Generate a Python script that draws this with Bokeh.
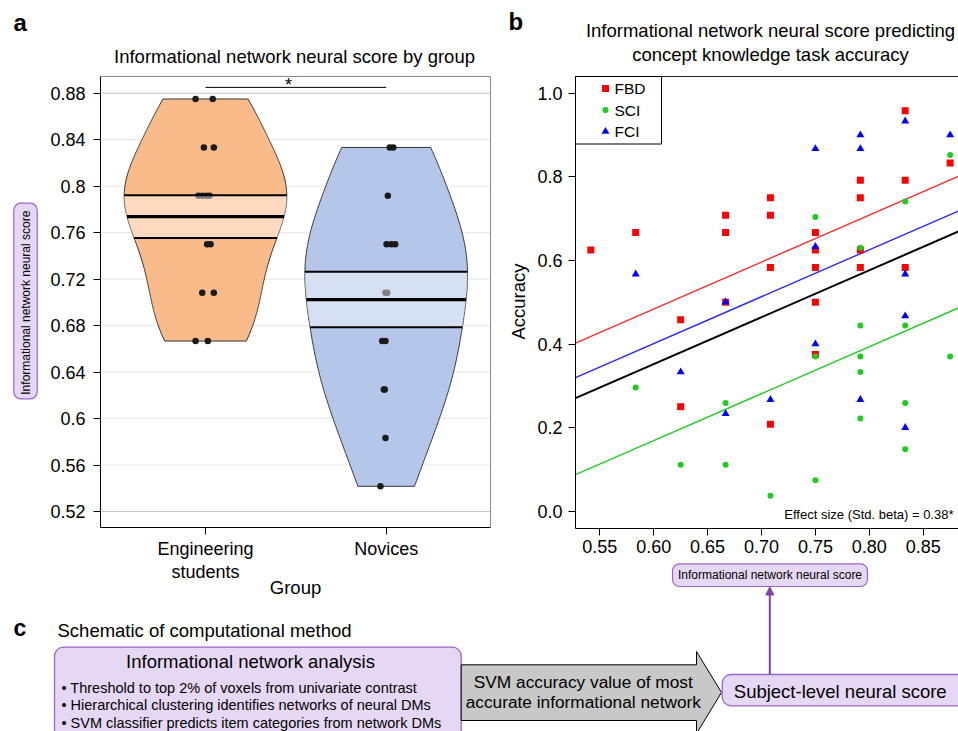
import numpy as np
from bokeh.plotting import figure
from bokeh.models import Range1d, LinearAxis, FixedTicker, Arrow, NormalHead
from bokeh.core.properties import value
from bokeh.embed import file_html
from bokeh.resources import INLINE

# ---------------- panel a data ----------------
GROUP_LABELS = ["Engineering\nstudents", "Novices"]
ENG_SCORE = [0.875, 0.875, 0.8333, 0.8333, 0.7917, 0.7917, 0.7917, 0.7917,
             0.75, 0.75, 0.7083, 0.7083, 0.6667, 0.6667]
ENG_JITTER = [-0.055, 0.040, -0.009, 0.046, -0.039, -0.017, 0.006, 0.022,
              0.009, 0.028, -0.018, 0.046, -0.055, 0.013]
NOV_SCORE = [0.8333, 0.8333, 0.7917, 0.75, 0.75, 0.75, 0.7083, 0.7083,
             0.6667, 0.6667, 0.625, 0.625, 0.5833, 0.5417]
NOV_JITTER = [0.020, 0.039, 0.009, 0.002, 0.028, 0.050, -0.004, 0.006,
              -0.022, -0.004, -0.013, -0.008, -0.004, -0.032]
A_YTICKS = [0.52, 0.56, 0.60, 0.64, 0.68, 0.72, 0.76, 0.80, 0.84, 0.88]
A_YLABELS = ["0.52", "0.56", "0.6", "0.64", "0.68", "0.72", "0.76", "0.8", "0.84", "0.88"]
SIG_Y = 0.885

# ---------------- panel b data ----------------
FBD_X = [0.5417, 0.5833, 0.625, 0.625, 0.6667, 0.6667, 0.6667, 0.7083, 0.7083, 0.7083, 0.7083,
         0.75, 0.75, 0.75, 0.75, 0.75, 0.7917, 0.7917, 0.7917, 0.7917, 0.8333, 0.8333, 0.8333, 0.875]
FBD_Y = [0.625, 0.667, 0.458, 0.250, 0.708, 0.667, 0.500, 0.750, 0.708, 0.583, 0.208,
         0.667, 0.625, 0.583, 0.500, 0.375, 0.792, 0.750, 0.625, 0.583, 0.958, 0.792, 0.583, 0.833]
SCI_X = [0.5833, 0.625, 0.6667, 0.6667, 0.7083, 0.75, 0.75, 0.75, 0.7917, 0.7917, 0.7917, 0.7917,
         0.7917, 0.8333, 0.8333, 0.8333, 0.8333, 0.875, 0.875]
SCI_Y = [0.296, 0.111, 0.259, 0.111, 0.037, 0.704, 0.370, 0.074, 0.630, 0.444, 0.370, 0.333,
         0.222, 0.741, 0.444, 0.259, 0.148, 0.852, 0.370]
FCI_X = [0.5833, 0.625, 0.6667, 0.6667, 0.7083, 0.75, 0.75, 0.75, 0.7917, 0.7917, 0.7917,
         0.8333, 0.8333, 0.8333, 0.8333, 0.875]
FCI_Y = [0.567, 0.333, 0.500, 0.233, 0.267, 0.867, 0.633, 0.400, 0.900, 0.867, 0.267,
         0.933, 0.567, 0.467, 0.200, 0.900]
FIT_SLOPE = 1.123
FIT_NAMES = ["FBD", "FCI", "All", "SCI"]
FIT_INTERCEPTS = [-0.190, -0.273, -0.322, -0.505]
FIT_COLORS = ["#FF2A2A", "#2A2AFF", "black", "#2ACC2A"]
B_XTICKS = [0.55, 0.60, 0.65, 0.70, 0.75, 0.80, 0.85]
B_XLABELS = ["0.55", "0.60", "0.65", "0.70", "0.75", "0.80", "0.85"]
B_YTICKS = [0.0, 0.2, 0.4, 0.6, 0.8, 1.0]
B_YLABELS = ["0.0", "0.2", "0.4", "0.6", "0.8", "1.0"]

# ---------------- canvas helpers ----------------
FONT = "Liberation Sans"
W, H = 958, 731


def X(px):
    return px


def Y(py):
    return H - py


def lin(v0, p0, v1, p1):
    k = (v1 - v0) / (p1 - p0)
    return lambda pp: v0 + (pp - p0) * k


ax_v = lin(1.0, 205.0, 2.0, 385.7)
ay_v = lin(0.88, 92.7, 0.52, 511.0)
bx_v = lin(0.70, 761.0, 0.85, 922.7)
by_v = lin(1.0, 92.7, 0.0, 510.7)

p = figure(width=W, height=H, x_range=Range1d(0, W), y_range=Range1d(0, H),
           x_axis_type=None, y_axis_type=None, toolbar_location=None,
           output_backend="svg", min_border=0, outline_line_color=None)
p.background_fill_color = "white"
p.border_fill_color = "white"
p.extra_x_ranges = {"ax": Range1d(ax_v(0), ax_v(W)), "bx": Range1d(bx_v(0), bx_v(W))}
p.extra_y_ranges = {"ay": Range1d(ay_v(H), ay_v(0)), "by": Range1d(by_v(H), by_v(0))}

A = dict(x_range_name="ax", y_range_name="ay")
B = dict(x_range_name="bx", y_range_name="by")


def txt(px, py, s, size, align="left", baseline="alphabetic", bold=False, color="black", angle=0.0):
    if baseline == "alphabetic":
        py = py - 0.35 * size
        baseline = "middle"
    p.text(x=[X(px)], y=[Y(py)], text=[s], text_font=value(FONT), text_font_size=f"{size}px",
           text_font_style="bold" if bold else "normal", text_color=color,
           text_align=align, text_baseline=baseline, angle=angle)


def style_axis(ax, out, standoff):
    ax.axis_line_color = "black"
    ax.axis_line_width = 1
    ax.major_tick_line_color = "black"
    ax.major_tick_out = out
    ax.major_tick_in = 0
    ax.minor_tick_line_color = None
    ax.major_label_text_font = FONT
    ax.major_label_text_font_size = "18px"
    ax.major_label_text_color = "black"
    ax.major_label_standoff = standoff
    ax.major_label_text_line_height = 1.15


LAV_FILL = "#E6D8F5"
LAV_LINE = "#9B63CC"
PURPLE = "#8040AA"

# ================= panel a =================
A_X0, A_X1 = ax_v(100), ax_v(490)
A_Y0, A_Y1 = ay_v(527), ay_v(76)

grid_cols = ["#C4C4C4"] + ["#E6E6E6"] * (len(A_YTICKS) - 2) + ["#C4C4C4"]
p.segment(x0=A_X0, x1=A_X1, y0=A_YTICKS, y1=A_YTICKS, line_color=grid_cols, line_width=1, **A)
p.segment(x0=[X(100), X(490)], y0=[Y(76), Y(76)], x1=[X(490), X(490)], y1=[Y(76), Y(527)],
          line_color="#8A8A8A", line_width=1)


def kde(vals, ys):
    v = np.asarray(vals, float)
    sd = v.std(ddof=1)
    q1, q3 = np.percentile(v, [25, 75])
    bw = 0.9 * min(sd, (q3 - q1) / 1.34) * len(v) ** -0.2
    ys = np.atleast_1d(np.asarray(ys, float))
    return np.exp(-0.5 * ((ys[:, None] - v[None, :]) / bw) ** 2).sum(axis=1)


BEAN_COLORS = ["#F9BB8A", "#B4C7EA"]
for pos, vals, jit, col in zip([1, 2], [ENG_SCORE, NOV_SCORE], [ENG_JITTER, NOV_JITTER], BEAN_COLORS):
    v = np.asarray(vals, float)
    ys = np.linspace(v.min(), v.max(), 240)
    d = kde(v, ys)
    scale = 0.45 / d.max()
    w = d * scale
    p.patch(x=np.concatenate([pos - w, (pos + w)[::-1]]), y=np.concatenate([ys, ys[::-1]]),
            fill_color=col, line_color="#333333", line_width=1, **A)
    p.scatter(x=pos + np.asarray(jit), y=v, marker="circle", size=6.5,
              fill_color="#1A1A1A", line_color=None, **A)
    m = v.mean()
    se = v.std(ddof=1) / np.sqrt(len(v))
    yb = np.linspace(m - se, m + se, 60)
    wb = kde(v, yb) * scale
    p.patch(x=np.concatenate([pos - wb, (pos + wb)[::-1]]), y=np.concatenate([yb, yb[::-1]]),
            fill_color="white", fill_alpha=0.45, line_color=None, **A)
    for yv, lw in [(m - se, 2), (m + se, 2), (m, 3.2)]:
        hw = kde(v, [yv])[0] * scale
        p.segment(x0=[pos - hw], x1=[pos + hw], y0=[yv], y1=[yv], line_color="black", line_width=lw, **A)

p.segment(x0=[1], x1=[2], y0=[SIG_Y], y1=[SIG_Y], line_color="black", line_width=1, **A)
txt(288.1, 90.5, "*", 18, align="center")

a_y = LinearAxis(x_range_name="default", y_range_name="ay", fixed_location=X(100),
                 bounds=(A_Y0, A_Y1), ticker=FixedTicker(ticks=A_YTICKS),
                 major_label_overrides=dict(zip(A_YTICKS, A_YLABELS)))
style_axis(a_y, 7, 8)
p.add_layout(a_y, "left")
a_x = LinearAxis(x_range_name="ax", y_range_name="default", fixed_location=Y(527),
                 bounds=(A_X0, A_X1), ticker=FixedTicker(ticks=[1, 2]),
                 major_label_overrides={1: GROUP_LABELS[0], 2: GROUP_LABELS[1]})
style_axis(a_x, 7, 4)
p.add_layout(a_x, "below")

txt(13, 30, "a", 24, bold=True)
txt(294, 62.5, "Informational network neural score by group", 18.5, align="center")
txt(295, 593.3, "Group", 18.5, align="center")
p.quad(left=[X(13.3)], right=[X(36.7)], top=[Y(202.7)], bottom=[Y(398.3)], border_radius=7,
       fill_color=LAV_FILL, line_color=LAV_LINE, line_width=1.2)
txt(25.5, 300.5, "Informational  network neural score", 12, align="center",
    baseline="middle", angle=np.pi / 2)

# ================= panel b =================
B_X0, B_X1 = bx_v(575), bx_v(W)
B_Y0, B_Y1 = by_v(527.7), by_v(76)
p.segment(x0=[X(575)], x1=[X(W)], y0=[Y(76)], y1=[Y(76)], line_color="#222222", line_width=1)

for b0, c in zip(FIT_INTERCEPTS, FIT_COLORS):
    p.segment(x0=[B_X0], x1=[B_X1], y0=[b0 + FIT_SLOPE * B_X0], y1=[b0 + FIT_SLOPE * B_X1],
              line_color=c, line_width=2 if c == "black" else 1.4, **B)

p.scatter(x=FBD_X, y=FBD_Y, marker="square", size=7, fill_color="#FF0000", line_color=None, **B)
p.scatter(x=SCI_X, y=SCI_Y, marker="circle", size=6, fill_color="#1ECB1E", line_color=None, **B)
p.scatter(x=FCI_X, y=FCI_Y, marker="triangle", size=8, fill_color="#0000FF", line_color=None, **B)

b_y = LinearAxis(x_range_name="default", y_range_name="by", fixed_location=X(575),
                 bounds=(B_Y0, B_Y1), ticker=FixedTicker(ticks=B_YTICKS),
                 major_label_overrides=dict(zip(B_YTICKS, B_YLABELS)))
style_axis(b_y, 7, 6)
p.add_layout(b_y, "left")
b_x = LinearAxis(x_range_name="bx", y_range_name="default", fixed_location=Y(527.7),
                 bounds=(B_X0, B_X1), ticker=FixedTicker(ticks=B_XTICKS),
                 major_label_overrides=dict(zip(B_XTICKS, B_XLABELS)))
style_axis(b_x, 7, 5)
p.add_layout(b_x, "below")

# legend
p.quad(left=[X(575)], right=[X(661)], top=[Y(76)], bottom=[Y(143.5)],
       fill_color="white", line_color="black", line_width=1)
LEG_NAMES = ["FBD", "SCI", "FCI"]
LEG_MARK = ["square", "circle", "triangle"]
LEG_SIZE = [7, 6, 8]
LEG_COL = ["#FF0000", "#1ECB1E", "#0000FF"]
for i, (nm, mk, sz, cl) in enumerate(zip(LEG_NAMES, LEG_MARK, LEG_SIZE, LEG_COL)):
    yy = 88 + i * 21.5
    p.scatter(x=[X(605)], y=[Y(yy)], marker=mk, size=sz, fill_color=cl, line_color=None)
    txt(614, yy, nm, 15.5, baseline="middle")

txt(508, 29, "b", 24, bold=True)
txt(770, 36, "Informational network neural score predicting", 18.5, align="center")
txt(770, 60, "concept knowledge task accuracy", 18.5, align="center")
txt(518, 301, "Accuracy", 18.5, align="center", baseline="middle", angle=np.pi / 2)
txt(953, 518.3, "Effect size (Std. beta) = 0.38*", 13, align="right")

p.quad(left=[X(672)], right=[X(867)], top=[Y(563.3)], bottom=[Y(586)], border_radius=7,
       fill_color=LAV_FILL, line_color=LAV_LINE, line_width=1.2)
txt(769.5, 578.5, "Informational network neural score", 12, align="center")

# ================= panel c =================
txt(13, 636, "c", 23, bold=True)
txt(57, 636, "Schematic of computational method", 18.5)
p.quad(left=[X(54)], right=[X(460.7)], top=[Y(646.7)], bottom=[Y(800)], border_radius=9,
       fill_color=LAV_FILL, line_color=LAV_LINE, line_width=1.3)
txt(250, 667.5, "Informational network analysis", 18.5, align="center")
BULLETS = ["\u2022 Threshold to top 2% of voxels from univariate contrast",
           "\u2022 Hierarchical clustering identifies networks of neural DMs",
           "\u2022 SVM classifier predicts item categories from network DMs"]
for i, s in enumerate(BULLETS):
    txt(61, 692.5 + 17.5 * i, s, 14.5)

ar_x = [460.7, 696, 696, 721, 696, 696, 460.7]
ar_y = [664.3, 664.3, 651, 692, 733, 720, 720]
p.patch(x=[X(v) for v in ar_x], y=[Y(v) for v in ar_y],
        fill_color="#C8C8C8", line_color="black", line_width=1)
txt(582.8, 687.3, "SVM accuracy value of most", 17.3, align="center")
txt(582.8, 707.3, "accurate informational network", 17.3, align="center")

p.quad(left=[X(721.7)], right=[X(990)], top=[Y(674)], bottom=[Y(705.3)], border_radius=9,
       fill_color=LAV_FILL, line_color=LAV_LINE, line_width=1.3)
txt(733.3, 697.3, "Subject-level neural score", 18.5)

p.add_layout(Arrow(end=NormalHead(size=8, fill_color=PURPLE, line_color=PURPLE),
                   x_start=X(769.3), y_start=Y(674), x_end=X(769.3), y_end=Y(586.5),
                   line_color=PURPLE, line_width=2))

open("out.html", "w").write(file_html(p, INLINE))
